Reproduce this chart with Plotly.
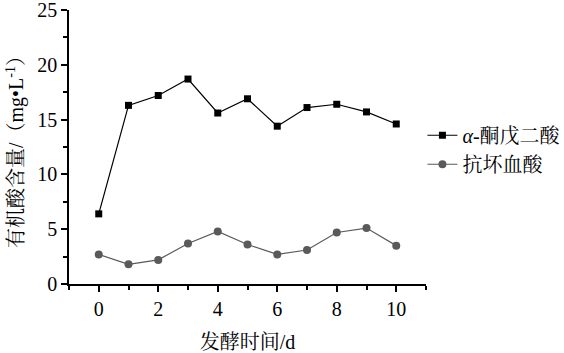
import plotly.graph_objects as go

days = [0, 1, 2, 3, 4, 5, 6, 7, 8, 9, 10]
akg = [6.4, 16.3, 17.2, 18.7, 15.6, 16.9, 14.4, 16.1, 16.4, 15.7, 14.6]
vitc = [2.7, 1.8, 2.2, 3.7, 4.8, 3.6, 2.7, 3.1, 4.7, 5.1, 3.5]
names = ["<i>α</i>-酮戊二酸", "抗坏血酸"]
x_title = "发酵时间/d"
y_title = "有机酸含量/（mg•L<sup>-1</sup>）"

FONT = "Liberation Serif, Times New Roman, Noto Serif CJK SC, Noto Sans CJK SC, serif"

fig = go.Figure()
fig.add_trace(go.Scatter(x=days, y=akg, name=names[0], mode="lines+markers",
                         line=dict(color="black", width=1.2),
                         marker=dict(symbol="square", size=7, color="black")))
fig.add_trace(go.Scatter(x=days, y=vitc, name=names[1], mode="lines+markers",
                         line=dict(color="#5a5a5a", width=1.2),
                         marker=dict(symbol="circle", size=8, color="#5a5a5a")))

fig.update_layout(
    width=564, height=353,
    margin=dict(l=69, r=138, t=10, b=69, autoexpand=False),
    paper_bgcolor="white", plot_bgcolor="white",
    font=dict(family=FONT, size=20, color="black"),
    showlegend=True,
    legend=dict(x=0.99, y=0.49, xanchor="left", yanchor="middle",
                font=dict(size=20, color="black"), bgcolor="rgba(0,0,0,0)",
                itemwidth=30, tracegroupgap=0),
)
fig.update_xaxes(
    range=[-1, 11], tickvals=[0, 2, 4, 6, 8, 10], automargin=False,
    showline=True, linecolor="black", linewidth=1.5,
    ticks="outside", ticklen=6, tickwidth=1.5, tickcolor="black",
    minor=dict(dtick=1, tick0=0, ticks="outside", ticklen=4, tickwidth=1.5, tickcolor="black"),
    showgrid=False, zeroline=False, ticklabeloverflow="allow",
    title=dict(text=x_title, font=dict(size=20, color="black"), standoff=16),
    tickfont=dict(size=20, color="black"),
)
fig.update_yaxes(
    range=[0, 25], tickvals=[0, 5, 10, 15, 20, 25], automargin=False,
    showline=True, linecolor="black", linewidth=1.5,
    ticks="outside", ticklen=6, tickwidth=1.5, tickcolor="black",
    minor=dict(dtick=2.5, tick0=0, ticks="outside", ticklen=4, tickwidth=1.5, tickcolor="black"),
    showgrid=False, zeroline=False, ticklabeloverflow="allow",
    title=dict(text=y_title, font=dict(size=20, color="black"), standoff=8),
    tickfont=dict(size=20, color="black"),
)

fig.write_html("out.html")
